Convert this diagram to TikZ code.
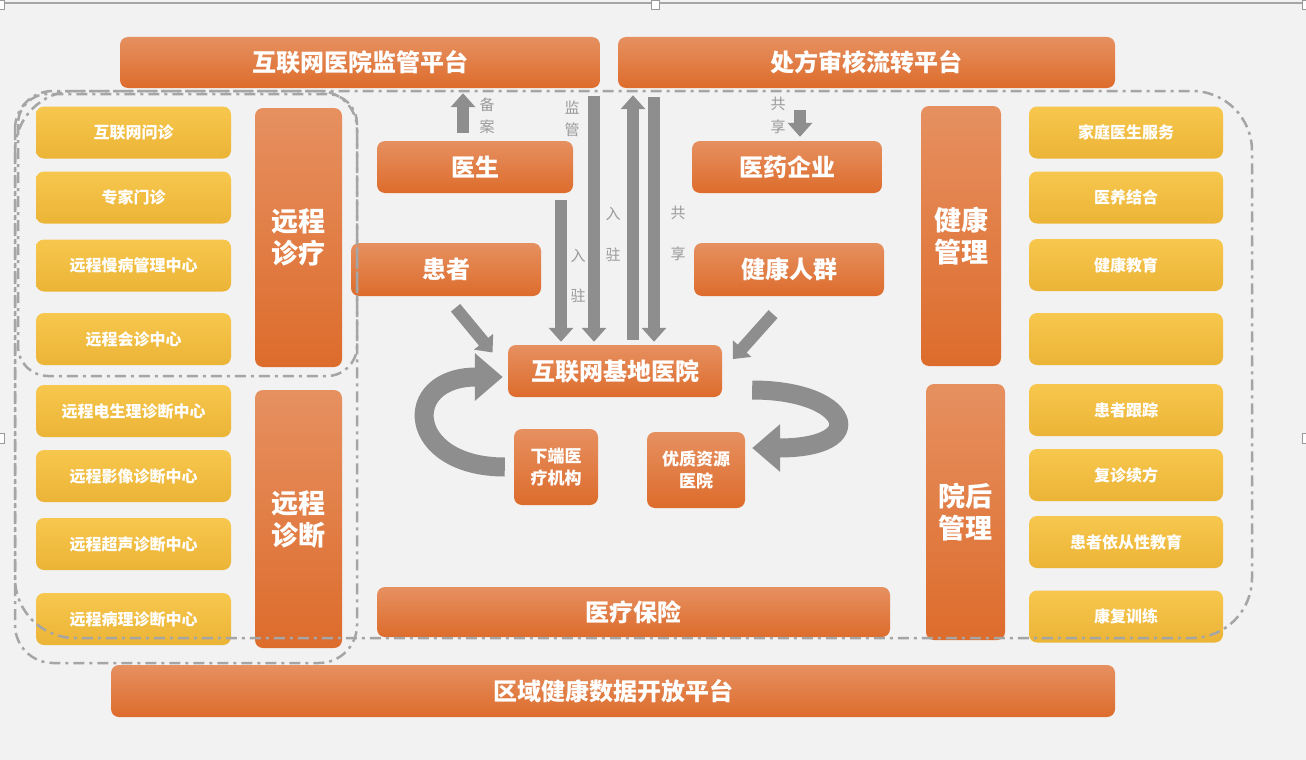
\documentclass[tikz,border=0pt]{standalone}
\usepackage{fontspec}
\setmainfont{Noto Sans CJK SC}
\usetikzlibrary{arrows.meta,calc}
\definecolor{bg}{HTML}{F2F2F2}
\definecolor{oTop}{HTML}{E69060}
\definecolor{oBot}{HTML}{DD6C2C}
\definecolor{yTop}{HTML}{F7C74D}
\definecolor{yBot}{HTML}{EBB437}
\definecolor{ar}{HTML}{8E8E8E}
\definecolor{lb}{HTML}{9A9A9A}
\definecolor{dsh}{HTML}{A5A5A5}
\begin{document}
\begin{tikzpicture}[x=1pt,y=-1pt,
 obox/.style={rounded corners=8pt, top color=oTop, bottom color=oBot, text=white, inner sep=0pt, align=center, font=\bfseries\fontsize{24}{28}\selectfont},
 tallbox/.style={obox, font=\bfseries\fontsize{27}{32}\selectfont},
 smallbox/.style={obox, font=\bfseries\fontsize{17}{22}\selectfont},
 ybox/.style={rounded corners=8pt, top color=yTop, bottom color=yBot, text=white, inner sep=0pt, minimum height=52pt, font=\bfseries\fontsize{16}{18}\selectfont},
 lyb/.style={ybox, minimum width=195pt},
 ryb/.style={ybox, minimum width=194pt},
 barrow/.style={draw=ar, line width=12pt, -{Triangle[width=24pt,length=14pt]}},
 carrow/.style={draw=ar, line width=19pt, -{Triangle[width=46pt,length=28pt]}},
 lbl/.style={text=lb, inner sep=0pt, font=\fontsize{15}{15}\selectfont},
 dline/.style={draw=dsh, line width=2.5pt, dash pattern=on 11pt off 5pt on 3pt off 5pt},
]
\useasboundingbox (0,0) rectangle (1306,760);
\fill[bg] (0,0) rectangle (1306,760);
% selection frame
\draw[gray!70, line width=1.2pt] (0,3) -- (1306,3);
\filldraw[fill=white, draw=gray!80, line width=0.6pt] (651,0) rectangle (659,9);
\filldraw[fill=white, draw=gray!80, line width=0.6pt] (-4,0) rectangle (4,9);
\filldraw[fill=white, draw=gray!80, line width=0.6pt] (1302,0) rectangle (1310,9);
\filldraw[fill=white, draw=gray!80, line width=0.6pt] (-4,433) rectangle (4,443);
\filldraw[fill=white, draw=gray!80, line width=0.6pt] (1302,433) rectangle (1310,443);

% platform bars
\node[obox, minimum width=480pt, minimum height=51pt] (top1) at (360,62.5) {互联网医院监管平台};
\node[obox, minimum width=497pt, minimum height=51pt] (top2) at (866.5,62.5) {处方审核流转平台};
\node[obox, minimum width=1004pt, minimum height=52pt] (bot) at (613,691) {区域健康数据开放平台};
\node[obox, minimum width=513pt, minimum height=50pt] (ins) at (633.5,612) {医疗保险};

% left yellow boxes
\node[lyb] (l1) at (133.5,132.5) {互联网问诊};
\node[lyb] (l2) at (133.5,197.5) {专家门诊};
\node[lyb] (l3) at (133.5,265.5) {远程慢病管理中心};
\node[lyb] (l4) at (133.5,339) {远程会诊中心};
\node[lyb] (l5) at (133.5,411) {远程电生理诊断中心};
\node[lyb] (l6) at (133.5,476) {远程影像诊断中心};
\node[lyb] (l7) at (133.5,544) {远程超声诊断中心};
\node[lyb] (l8) at (133.5,619) {远程病理诊断中心};
\node[tallbox, minimum width=87pt, minimum height=259pt] (rt) at (298.5,237.5) {远程\\诊疗};
\node[tallbox, minimum width=87pt, minimum height=258pt] (rd) at (298.5,519) {远程\\诊断};

% right
\node[tallbox, minimum width=80pt, minimum height=260pt] (hm) at (961,236) {健康\\管理};
\node[tallbox, minimum width=79pt, minimum height=256pt] (pm) at (965.5,512) {院后\\管理};
\node[ryb] (r1) at (1126,132.5) {家庭医生服务};
\node[ryb] (r2) at (1126,197.5) {医养结合};
\node[ryb] (r3) at (1126,265) {健康教育};
\node[ryb] (r4) at (1126,339) {};
\node[ryb] (r5) at (1126,410) {患者跟踪};
\node[ryb] (r6) at (1126,475) {复诊续方};
\node[ryb] (r7) at (1126,542) {患者依从性教育};
\node[ryb] (r8) at (1126,616.5) {康复训练};

% center
\node[obox, minimum width=196pt, minimum height=52pt] (doc) at (475,167) {医生};
\node[obox, minimum width=190pt, minimum height=52pt] (pha) at (787,167) {医药企业};
\node[obox, minimum width=190pt, minimum height=53pt] (pat) at (446,269.5) {患者};
\node[obox, minimum width=190pt, minimum height=53pt] (hea) at (789,269.5) {健康人群};
\node[obox, minimum width=214pt, minimum height=52pt] (base) at (615,371) {互联网基地医院};
\node[smallbox, minimum width=84pt, minimum height=76pt] (low) at (556,467) {下端医\\疗机构};
\node[smallbox, minimum width=98pt, minimum height=76pt] (good) at (696,470) {优质资源\\医院};

% dashed outlines
\draw[dline, rounded corners=60pt] (15,91) rectangle (1252,638);
\draw[dline, rounded corners=38pt] (15,91) rectangle (357,663);
\draw[dline, rounded corners=30pt] (18,94) rectangle (357,376);

% vertical arrows
\coordinate (xa) at (463,0);
\coordinate (xb) at (594,0);
\coordinate (xc) at (561,0);
\coordinate (xd) at (633,0);
\coordinate (xe) at (654,0);
\coordinate (xf) at (800,0);
\draw[barrow, shorten <=8pt, shorten >=5pt] (doc.north -| xa) -- (top1.south -| xa);
\draw[barrow, shorten <=8pt, shorten >=3pt] (top1.south -| xb) -- (base.north -| xb);
\draw[barrow, shorten <=7pt, shorten >=3pt] (doc.south -| xc) -- (base.north -| xc);
\draw[barrow, shorten <=5pt, shorten >=7pt] (base.north -| xd) -- (top2.south -| xd);
\draw[barrow, shorten <=9pt, shorten >=3pt] (top2.south -| xe) -- (base.north -| xe);
\draw[barrow, shorten <=22pt, shorten >=4pt] (top2.south -| xf) -- (pha.north -| xf);

% diagonal arrows
\draw[barrow, shorten <=15pt, shorten >=24pt] (pat.south) -- (base.west);
\draw[barrow, shorten <=24pt, shorten >=16pt] (hea.south) -- (base.east);

% curved arrows
\draw[carrow, shorten <=9pt, shorten >=5pt] (low.west) .. controls +(-108,0) and +(-108,0) .. ([yshift=-6pt]base.west);
\draw[carrow, shorten <=30pt, shorten >=7pt] ([yshift=-19pt]base.east) .. controls +(128,0) and +(128,0) .. ([yshift=22pt]good.east);

% arrow labels
\node[lbl] (la1) at (487,105) {备};
\node[lbl] (la2) at (487,127) {案};
\node[lbl] (lb1) at (572,108) {监};
\node[lbl] (lb2) at (572,130) {管};
\node[lbl] (lc1) at (578,256) {入};
\node[lbl] (lc2) at (578,296) {驻};
\node[lbl] (ld1) at (613,214) {入};
\node[lbl] (ld2) at (613,255) {驻};
\node[lbl] (le1) at (678,213) {共};
\node[lbl] (le2) at (678,254) {享};
\node[lbl] (lf1) at (778,104) {共};
\node[lbl] (lf2) at (778,127) {享};
\end{tikzpicture}
\end{document}
